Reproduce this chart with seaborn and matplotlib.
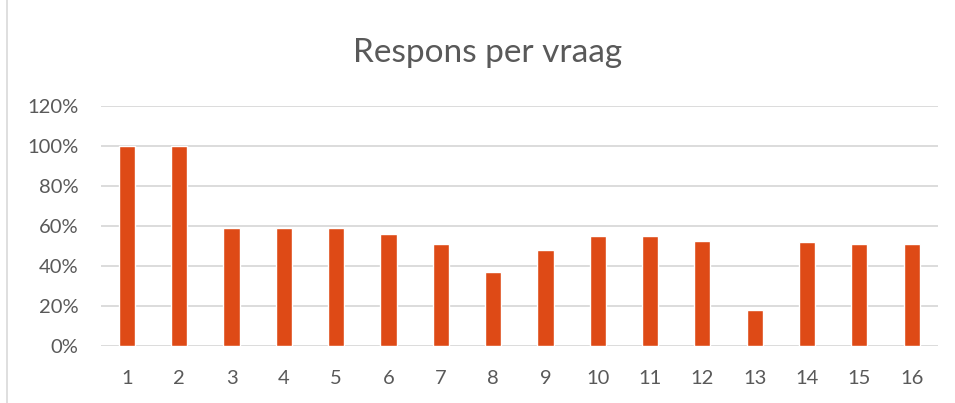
import matplotlib
matplotlib.use("Agg")
import matplotlib.pyplot as plt
from matplotlib.lines import Line2D
from matplotlib.ticker import PercentFormatter, MultipleLocator
import seaborn as sns
import pandas as pd

questions = [str(i) for i in range(1, 17)]
response = [1.00, 1.00, 0.59, 0.59, 0.59, 0.56, 0.51, 0.37, 0.48, 0.55, 0.55, 0.525, 0.18, 0.52, 0.51, 0.51]
title = "Respons per vraag"

sns.set_style("white")
plt.rcParams['font.family'] = ['Lato', 'DejaVu Sans']

df = pd.DataFrame({"vraag": questions, "respons": response})

fig = plt.figure(figsize=(9.55, 4.03), dpi=100)
ax = fig.add_axes([0.1055, 0.1414, 0.8765, 0.5955])

sns.barplot(data=df, x="vraag", y="respons", color="#DE4A16", width=0.31,
            saturation=1, ax=ax, order=questions)

ax.set_ylim(0, 1.2)
ax.set_xlim(-0.5, len(questions) - 0.5)
ax.yaxis.set_major_locator(MultipleLocator(0.2))
ax.yaxis.set_major_formatter(PercentFormatter(1.0, decimals=0))
ax.grid(axis="y", color="#D9D9D9", linewidth=1.3)
ax.set_axisbelow(True)
for s in ax.spines.values():
    s.set_visible(False)
ax.set_xlabel("")
ax.set_ylabel("")
ax.tick_params(axis="both", length=0, labelsize=14.5, labelcolor="#595959")
ax.tick_params(axis="y", pad=16)
ax.tick_params(axis="x", pad=17.5)

fig.text(0.511, 1 - 53 / 403, title, ha="center", va="center",
         fontsize=24, color="#595959")

fig.add_artist(Line2D([7 / 955, 7 / 955], [0, 1], transform=fig.transFigure,
                      color="#D9D9D9", linewidth=1.2))

fig.savefig("out.png", dpi=100)
